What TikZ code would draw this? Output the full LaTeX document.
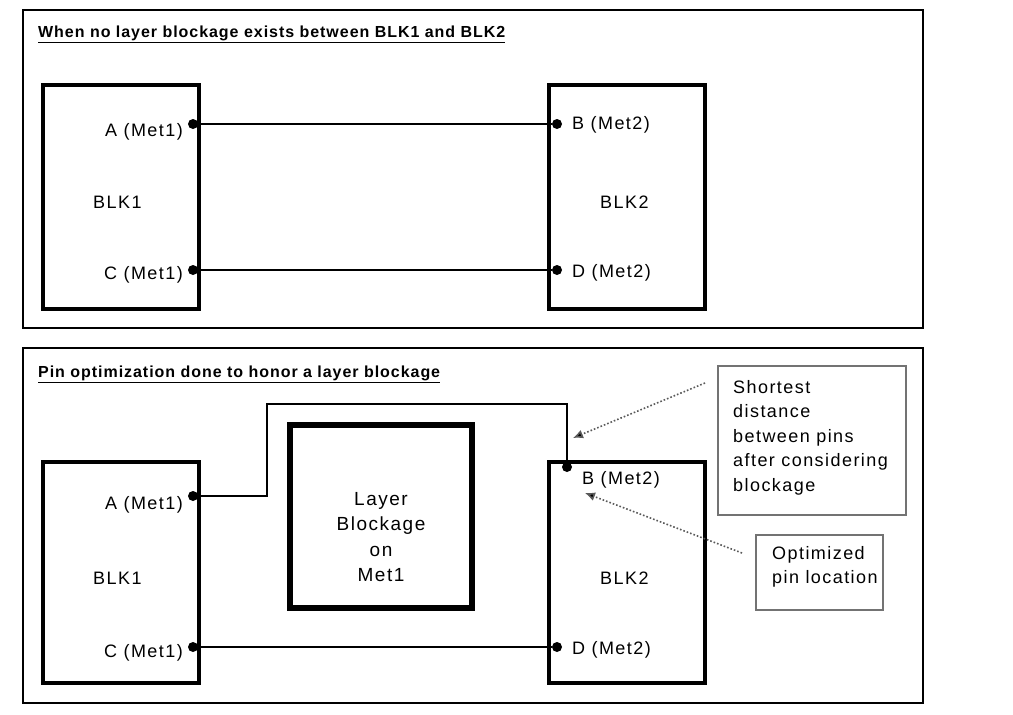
\documentclass[tikz,border=0pt]{standalone}
\usepackage{fontspec}
\setmainfont{Liberation Sans}
\newfontfamily\lblfont{Liberation Sans}[LetterSpace=8]
\newfontfamily\ttlfont{Liberation Sans}[LetterSpace=6]
\usetikzlibrary{arrows.meta}
\begin{document}
\begin{tikzpicture}[x=1pt,y=-1pt,
  panel/.style={draw=black,line width=1.6pt,minimum width=#1,inner sep=0pt,outer sep=0pt},
  blk/.style={draw=black,line width=4pt,inner sep=0pt,outer sep=0pt,minimum width=156pt},
  callout/.style={draw=gray!90!black,line width=1.3pt,inner sep=0pt,outer sep=0pt},
  pin/.style={circle,fill=black,inner sep=0pt,minimum size=10pt},
  lbl/.style={inner sep=0pt,font=\lblfont\fontsize{18}{24.5}\selectfont},
  ttl/.style={inner sep=0pt,anchor=base west,font=\ttlfont\bfseries\fontsize{16}{18}\selectfont},
  wire/.style={line width=1.6pt},
  note/.style={gray!70!black,line width=1.6pt,dotted,-{Latex[length=10pt,width=9pt,fill=black]}}
]
\useasboundingbox (0,0) rectangle (1013,715);
\fill[white] (0,0) rectangle (1013,715);

% ---------- top panel ----------
\node[panel=900pt,minimum height=318pt] (p1) at (473,169) {};
\node[ttl] (t1) at (38,37) {\underline{When no layer blockage exists between BLK1 and BLK2}};
\node[blk,minimum height=224pt] (b1) at (121,197) {};
\node[blk,minimum height=224pt] (b2) at (627,197) {};
\node[pin] (pa1) at (193,124) {};
\node[pin] (pb1) at (557,124) {};
\node[pin] (pc1) at (193,270) {};
\node[pin] (pd1) at (557,270) {};
\draw[wire] (pa1) -- (pb1);
\draw[wire] (pc1) -- (pd1);
\node[lbl,anchor=base east] (la1) at (183,136) {A (Met1)};
\node[lbl,anchor=base west] (lb1) at (572,129) {B (Met2)};
\node[lbl,anchor=base east] (lc1) at (183,279) {C (Met1)};
\node[lbl,anchor=base west] (ld1) at (572,277) {D (Met2)};
\node[lbl,anchor=base west] (n1) at (93,208) {BLK1};
\node[lbl,anchor=base west] (n2) at (600,208) {BLK2};

% ---------- bottom panel ----------
\node[panel=900pt,minimum height=355pt] (p2) at (473,525.5) {};
\node[ttl] (t2) at (38,377) {\underline{Pin optimization done to honor a layer blockage}};
\node[blk,minimum height=221pt] (b3) at (121,572.5) {};
\node[blk,minimum height=221pt] (b4) at (627,572.5) {};
\node[draw=black,line width=6pt,minimum width=182pt,minimum height=183pt,inner sep=0pt] (lb) at (381,516.5) {};
\node[lbl,align=center,anchor=north,font=\lblfont\fontsize{19}{25.5}\selectfont] (lbt) at (381,492) {Layer\\Blockage\\on\\Met1};
\node[pin] (pa2) at (193,496) {};
\node[pin] (pb2) at (567,467) {};
\node[pin] (pc2) at (193,647) {};
\node[pin] (pd2) at (557,647) {};
\coordinate (r1) at (267,404);
\draw[wire] (pa2) -| (r1) -| (pb2);
\draw[wire] (pc2) -- (pd2);
\node[lbl,anchor=base east] (la2) at (183,509) {A (Met1)};
\node[lbl,anchor=base west] (lb2) at (582,484) {B (Met2)};
\node[lbl,anchor=base east] (lc2) at (183,657) {C (Met1)};
\node[lbl,anchor=base west] (ld2) at (572,654) {D (Met2)};
\node[lbl,anchor=base west] (n3) at (93,584) {BLK1};
\node[lbl,anchor=base west] (n4) at (600,584) {BLK2};

% ---------- callouts ----------
\node[callout,minimum width=188pt,minimum height=149pt] (c1) at (812,440.5) {};
\node[lbl,align=left,anchor=north west] (c1t) at (733,380) {Shortest\\distance\\between pins\\after considering\\blockage};
\node[callout,minimum width=127pt,minimum height=75pt] (c2) at (819.5,572.5) {};
\node[lbl,align=left,anchor=north west] (c2t) at (772,546) {Optimized\\pin location};
\coordinate (s1) at (705,383);
\coordinate (e1) at (573,438);
\coordinate (s2) at (742,553);
\coordinate (e2) at (585,493);
\draw[note] (s1) -- (e1);
\draw[note] (s2) -- (e2);
\end{tikzpicture}
\end{document}
